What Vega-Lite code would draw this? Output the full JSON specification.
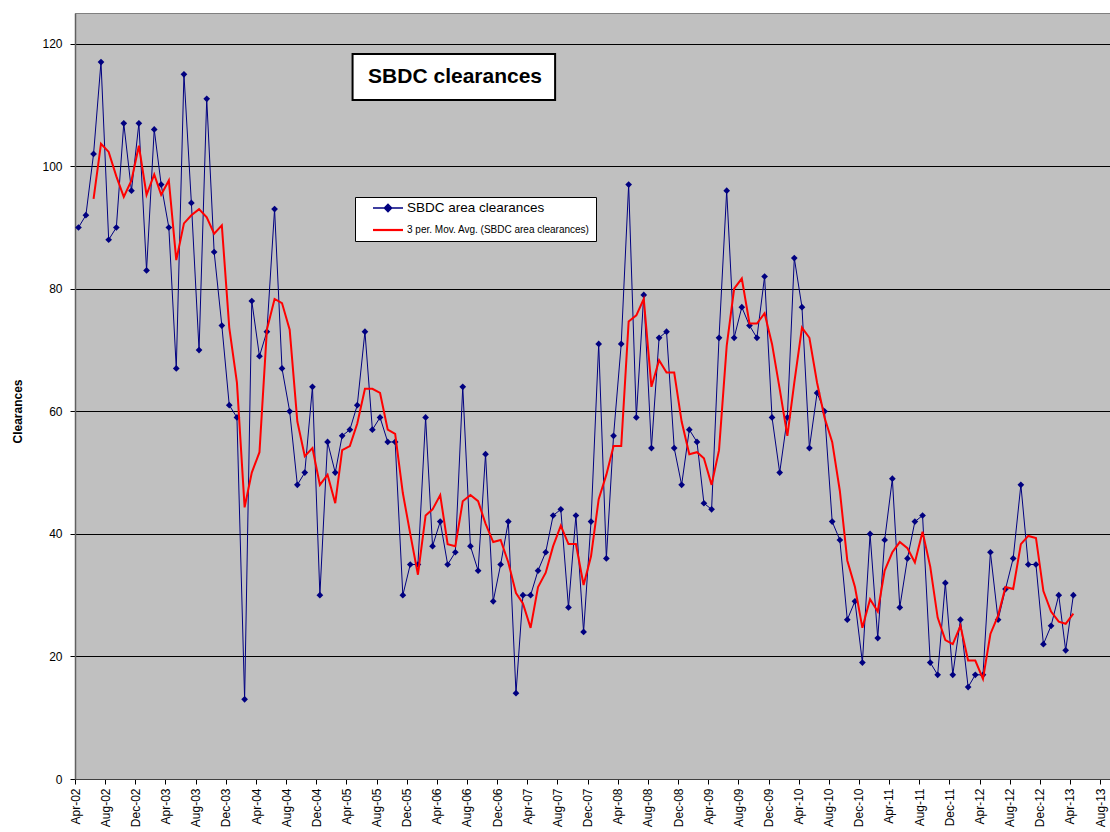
{
  "$schema": "https://vega.github.io/schema/vega-lite/v6.json",
  "width": 1035,
  "height": 766,
  "autosize": {"type": "none"},
  "padding": {"left": 75, "top": 13, "right": 0, "bottom": 53},
  "background": "white",
  "config": {
    "view": {"fill": "#C0C0C0", "stroke": "#808080", "strokeWidth": 1},
    "font": "Liberation Sans",
    "axis": {"labelFont": "Liberation Sans", "labelColor": "black", "labelFontSize": 12, "tickColor": "black", "domainColor": "#404040", "titleFont": "Liberation Sans", "titleColor": "black"}
  },
  "resolve": {"axis": {"x": "independent", "y": "independent"}},
  "layer": [
    {
      "data": {
        "values": [
          {"date": "2002-04-15", "clearances": 90}, {"date": "2002-05-15", "clearances": 92}, {"date": "2002-06-15", "clearances": 102},
          {"date": "2002-07-15", "clearances": 117}, {"date": "2002-08-15", "clearances": 88}, {"date": "2002-09-15", "clearances": 90},
          {"date": "2002-10-15", "clearances": 107}, {"date": "2002-11-15", "clearances": 96}, {"date": "2002-12-15", "clearances": 107},
          {"date": "2003-01-15", "clearances": 83}, {"date": "2003-02-15", "clearances": 106}, {"date": "2003-03-15", "clearances": 97},
          {"date": "2003-04-15", "clearances": 90}, {"date": "2003-05-15", "clearances": 67}, {"date": "2003-06-15", "clearances": 115},
          {"date": "2003-07-15", "clearances": 94}, {"date": "2003-08-15", "clearances": 70}, {"date": "2003-09-15", "clearances": 111},
          {"date": "2003-10-15", "clearances": 86}, {"date": "2003-11-15", "clearances": 74}, {"date": "2003-12-15", "clearances": 61},
          {"date": "2004-01-15", "clearances": 59}, {"date": "2004-02-15", "clearances": 13}, {"date": "2004-03-15", "clearances": 78},
          {"date": "2004-04-15", "clearances": 69}, {"date": "2004-05-15", "clearances": 73}, {"date": "2004-06-15", "clearances": 93},
          {"date": "2004-07-15", "clearances": 67}, {"date": "2004-08-15", "clearances": 60}, {"date": "2004-09-15", "clearances": 48},
          {"date": "2004-10-15", "clearances": 50}, {"date": "2004-11-15", "clearances": 64}, {"date": "2004-12-15", "clearances": 30},
          {"date": "2005-01-15", "clearances": 55}, {"date": "2005-02-15", "clearances": 50}, {"date": "2005-03-15", "clearances": 56},
          {"date": "2005-04-15", "clearances": 57}, {"date": "2005-05-15", "clearances": 61}, {"date": "2005-06-15", "clearances": 73},
          {"date": "2005-07-15", "clearances": 57}, {"date": "2005-08-15", "clearances": 59}, {"date": "2005-09-15", "clearances": 55},
          {"date": "2005-10-15", "clearances": 55}, {"date": "2005-11-15", "clearances": 30}, {"date": "2005-12-15", "clearances": 35},
          {"date": "2006-01-15", "clearances": 35}, {"date": "2006-02-15", "clearances": 59}, {"date": "2006-03-15", "clearances": 38},
          {"date": "2006-04-15", "clearances": 42}, {"date": "2006-05-15", "clearances": 35}, {"date": "2006-06-15", "clearances": 37},
          {"date": "2006-07-15", "clearances": 64}, {"date": "2006-08-15", "clearances": 38}, {"date": "2006-09-15", "clearances": 34},
          {"date": "2006-10-15", "clearances": 53}, {"date": "2006-11-15", "clearances": 29}, {"date": "2006-12-15", "clearances": 35},
          {"date": "2007-01-15", "clearances": 42}, {"date": "2007-02-15", "clearances": 14}, {"date": "2007-03-15", "clearances": 30},
          {"date": "2007-04-15", "clearances": 30}, {"date": "2007-05-15", "clearances": 34}, {"date": "2007-06-15", "clearances": 37},
          {"date": "2007-07-15", "clearances": 43}, {"date": "2007-08-15", "clearances": 44}, {"date": "2007-09-15", "clearances": 28},
          {"date": "2007-10-15", "clearances": 43}, {"date": "2007-11-15", "clearances": 24}, {"date": "2007-12-15", "clearances": 42},
          {"date": "2008-01-15", "clearances": 71}, {"date": "2008-02-15", "clearances": 36}, {"date": "2008-03-15", "clearances": 56},
          {"date": "2008-04-15", "clearances": 71}, {"date": "2008-05-15", "clearances": 97}, {"date": "2008-06-15", "clearances": 59},
          {"date": "2008-07-15", "clearances": 79}, {"date": "2008-08-15", "clearances": 54}, {"date": "2008-09-15", "clearances": 72},
          {"date": "2008-10-15", "clearances": 73}, {"date": "2008-11-15", "clearances": 54}, {"date": "2008-12-15", "clearances": 48},
          {"date": "2009-01-15", "clearances": 57}, {"date": "2009-02-15", "clearances": 55}, {"date": "2009-03-15", "clearances": 45},
          {"date": "2009-04-15", "clearances": 44}, {"date": "2009-05-15", "clearances": 72}, {"date": "2009-06-15", "clearances": 96},
          {"date": "2009-07-15", "clearances": 72}, {"date": "2009-08-15", "clearances": 77}, {"date": "2009-09-15", "clearances": 74},
          {"date": "2009-10-15", "clearances": 72}, {"date": "2009-11-15", "clearances": 82}, {"date": "2009-12-15", "clearances": 59},
          {"date": "2010-01-15", "clearances": 50}, {"date": "2010-02-15", "clearances": 59}, {"date": "2010-03-15", "clearances": 85},
          {"date": "2010-04-15", "clearances": 77}, {"date": "2010-05-15", "clearances": 54}, {"date": "2010-06-15", "clearances": 63},
          {"date": "2010-07-15", "clearances": 60}, {"date": "2010-08-15", "clearances": 42}, {"date": "2010-09-15", "clearances": 39},
          {"date": "2010-10-15", "clearances": 26}, {"date": "2010-11-15", "clearances": 29}, {"date": "2010-12-15", "clearances": 19},
          {"date": "2011-01-15", "clearances": 40}, {"date": "2011-02-15", "clearances": 23}, {"date": "2011-03-15", "clearances": 39},
          {"date": "2011-04-15", "clearances": 49}, {"date": "2011-05-15", "clearances": 28}, {"date": "2011-06-15", "clearances": 36},
          {"date": "2011-07-15", "clearances": 42}, {"date": "2011-08-15", "clearances": 43}, {"date": "2011-09-15", "clearances": 19},
          {"date": "2011-10-15", "clearances": 17}, {"date": "2011-11-15", "clearances": 32}, {"date": "2011-12-15", "clearances": 17},
          {"date": "2012-01-15", "clearances": 26}, {"date": "2012-02-15", "clearances": 15}, {"date": "2012-03-15", "clearances": 17},
          {"date": "2012-04-15", "clearances": 17}, {"date": "2012-05-15", "clearances": 37}, {"date": "2012-06-15", "clearances": 26},
          {"date": "2012-07-15", "clearances": 31}, {"date": "2012-08-15", "clearances": 36}, {"date": "2012-09-15", "clearances": 48},
          {"date": "2012-10-15", "clearances": 35}, {"date": "2012-11-15", "clearances": 35}, {"date": "2012-12-15", "clearances": 22},
          {"date": "2013-01-15", "clearances": 25}, {"date": "2013-02-15", "clearances": 30}, {"date": "2013-03-15", "clearances": 21},
          {"date": "2013-04-15", "clearances": 30}
        ]
      },
      "encoding": {
        "x": {
          "field": "date", "type": "temporal",
          "scale": {"type": "utc", "domain": [{"year": 2002, "month": 4, "date": 1, "utc": true}, {"year": 2013, "month": 9, "date": 10, "utc": true}]},
          "axis": {
            "title": null, "grid": false, "format": "%b-%y", "labelAngle": 270, "labelAlign": "right", "labelBaseline": "middle",
            "labelOverlap": false, "labelFlush": false,
            "tickSize": 5, "labelPadding": 4, "labelFontSize": 12, "domainColor": "#404040",
            "values": [
              {"year": 2002, "month": 4, "date": 1, "utc": true}, {"year": 2002, "month": 8, "date": 1, "utc": true}, {"year": 2002, "month": 12, "date": 1, "utc": true},
              {"year": 2003, "month": 4, "date": 1, "utc": true}, {"year": 2003, "month": 8, "date": 1, "utc": true}, {"year": 2003, "month": 12, "date": 1, "utc": true},
              {"year": 2004, "month": 4, "date": 1, "utc": true}, {"year": 2004, "month": 8, "date": 1, "utc": true}, {"year": 2004, "month": 12, "date": 1, "utc": true},
              {"year": 2005, "month": 4, "date": 1, "utc": true}, {"year": 2005, "month": 8, "date": 1, "utc": true}, {"year": 2005, "month": 12, "date": 1, "utc": true},
              {"year": 2006, "month": 4, "date": 1, "utc": true}, {"year": 2006, "month": 8, "date": 1, "utc": true}, {"year": 2006, "month": 12, "date": 1, "utc": true},
              {"year": 2007, "month": 4, "date": 1, "utc": true}, {"year": 2007, "month": 8, "date": 1, "utc": true}, {"year": 2007, "month": 12, "date": 1, "utc": true},
              {"year": 2008, "month": 4, "date": 1, "utc": true}, {"year": 2008, "month": 8, "date": 1, "utc": true}, {"year": 2008, "month": 12, "date": 1, "utc": true},
              {"year": 2009, "month": 4, "date": 1, "utc": true}, {"year": 2009, "month": 8, "date": 1, "utc": true}, {"year": 2009, "month": 12, "date": 1, "utc": true},
              {"year": 2010, "month": 4, "date": 1, "utc": true}, {"year": 2010, "month": 8, "date": 1, "utc": true}, {"year": 2010, "month": 12, "date": 1, "utc": true},
              {"year": 2011, "month": 4, "date": 1, "utc": true}, {"year": 2011, "month": 8, "date": 1, "utc": true}, {"year": 2011, "month": 12, "date": 1, "utc": true},
              {"year": 2012, "month": 4, "date": 1, "utc": true}, {"year": 2012, "month": 8, "date": 1, "utc": true}, {"year": 2012, "month": 12, "date": 1, "utc": true},
              {"year": 2013, "month": 4, "date": 1, "utc": true}, {"year": 2013, "month": 8, "date": 1, "utc": true}
            ]
          }
        },
        "y": {
          "field": "clearances", "type": "quantitative",
          "scale": {"domain": [0, 125], "nice": false, "zero": true},
          "axis": {
            "title": "Clearances", "values": [0, 20, 40, 60, 80, 100, 120],
            "grid": true, "gridColor": "black", "gridWidth": 1, "gridOpacity": 1,
            "tickSize": 5, "labelPadding": 8, "labelFontSize": 12, "domainColor": "#606060", "domainWidth": 1.5,
            "titleFontSize": 12, "titleFontWeight": "bold", "titleAngle": 270, "titleX": -58, "titleY": 398,
            "titleAlign": "center", "titleBaseline": "middle"
          }
        }
      },
      "layer": [
        {
          "mark": {"type": "line", "strokeWidth": 1, "clip": true},
          "encoding": {
            "color": {
              "datum": "SBDC area clearances", "type": "nominal",
              "scale": {"domain": ["SBDC area clearances", "3 per. Mov. Avg. (SBDC area clearances)"], "range": ["#000080", "#FF0000"]},
              "legend": {
                "orient": "none", "legendX": 280, "legendY": 184, "title": null,
                "fillColor": "white", "strokeColor": "black", "padding": 6,
                "symbolType": {"expr": "datum.value === 'SBDC area clearances' ? 'M-2,0H2M0,-0.5L0.5,0L0,0.5L-0.5,0ZM0,-0.25L0.25,0L0,0.25L-0.25,0ZM0,-0.5V0.5M-0.5,0H0.5' : 'M-2,0H2'"},
                "symbolSize": 225,
                "symbolStrokeWidth": {"expr": "datum.value === 'SBDC area clearances' ? 1.3 : 2.2"},
                "symbolOffset": 22,
                "labelOffset": 14,
                "labelFontSize": {"expr": "datum.value === 'SBDC area clearances' ? 13.5 : 10"},
                "labelFont": "Liberation Sans", "labelColor": "black", "labelLimit": 400,
                "rowPadding": 10
              }
            }
          }
        },
        {
          "mark": {"type": "point", "shape": "diamond", "filled": true, "size": 45, "color": "#000080", "opacity": 1}
        },
        {
          "transform": [
            {"window": [{"op": "mean", "field": "clearances", "as": "ma"}, {"op": "count", "as": "n"}], "sort": [{"field": "date"}], "frame": [-2, 0]},
            {"filter": "datum.n == 3"}
          ],
          "mark": {"type": "line", "strokeWidth": 2},
          "encoding": {
            "y": {"field": "ma", "type": "quantitative"},
            "color": {"datum": "3 per. Mov. Avg. (SBDC area clearances)", "type": "nominal"}
          }
        }
      ]
    },
    {
      "data": {"values": [{"label": "SBDC clearances"}]},
      "mark": {"type": "rect", "fill": "white", "stroke": "black", "strokeWidth": 2},
      "encoding": {
        "x": {"datum": {"year": 2005, "month": 4, "date": 26, "utc": true}, "type": "temporal", "axis": null},
        "x2": {"datum": {"year": 2007, "month": 7, "date": 23, "utc": true}},
        "y": {"datum": 118.3, "type": "quantitative", "axis": null},
        "y2": {"datum": 110.8}
      }
    },
    {
      "data": {"values": [{"label": "SBDC clearances"}]},
      "mark": {"type": "text", "fontSize": 21, "fontWeight": "bold", "font": "Liberation Sans", "color": "black", "align": "center", "baseline": "middle"},
      "encoding": {
        "x": {"datum": {"year": 2006, "month": 6, "date": 14, "utc": true}, "type": "temporal", "axis": null},
        "y": {"datum": 114.5, "type": "quantitative", "axis": null},
        "text": {"field": "label"}
      }
    }
  ]
}
